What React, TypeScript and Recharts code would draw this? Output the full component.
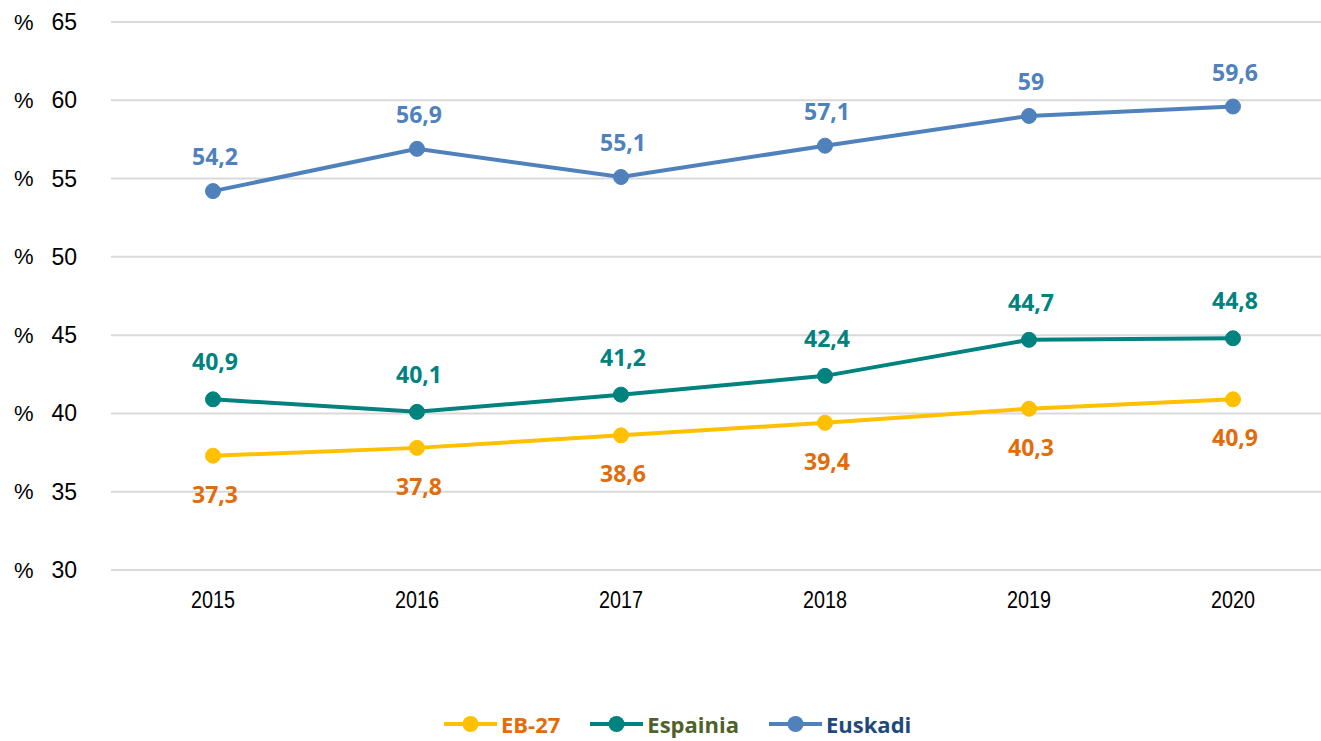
import { LineChart, Line, XAxis, YAxis, CartesianGrid, LabelList } from 'recharts';

const years = ['2015', '2016', '2017', '2018', '2019', '2020'];
const eb27 = [37.3, 37.8, 38.6, 39.4, 40.3, 40.9];
const espainia = [40.9, 40.1, 41.2, 42.4, 44.7, 44.8];
const euskadi = [54.2, 56.9, 55.1, 57.1, 59, 59.6];
const yTicks = [30, 35, 40, 45, 50, 55, 60, 65];

const SERIES = [
  { key: 'eb27', name: 'EB-27', color: '#FFC000', labelColor: '#E36C0A', legendColor: '#E36C0A', dy: 38 },
  { key: 'espainia', name: 'Espainia', color: '#00827F', labelColor: '#00827F', legendColor: '#4F6228', dy: -38 },
  { key: 'euskadi', name: 'Euskadi', color: '#4F81BD', labelColor: '#4F81BD', legendColor: '#1F497D', dy: -35 },
];

const data = years.map((year, i) => ({
  year,
  eb27: eb27[i],
  espainia: espainia[i],
  euskadi: euskadi[i],
}));

const LABEL_FONT = '"Open Sans", "Noto Sans", sans-serif';
const AXIS_FONT = "'Liberation Sans', Arial, sans-serif";
const fmt = (v: number) => String(v).replace('.', ',');

function YTick({ y, payload }: any) {
  return (
    <g>
      <text x={14} y={y} dominantBaseline="central" fontSize={22} fontFamily={AXIS_FONT} fill="#000">%</text>
      <text x={77} y={y} textAnchor="end" dominantBaseline="central" fontSize={23} fontFamily={AXIS_FONT} fill="#000">{payload.value}</text>
    </g>
  );
}

function XTick({ x, y, payload }: any) {
  return (
    <text x={x} y={y + 22} textAnchor="middle" dominantBaseline="central" fontSize={23}
      textLength={44} lengthAdjust="spacingAndGlyphs" fontFamily={AXIS_FONT} fill="#000">
      {payload.value}
    </text>
  );
}

function makeLabel(color: string, dy: number) {
  return (props: any) => {
    const { x, y, value } = props;
    return (
      <text x={x + 2} y={y + dy} textAnchor="middle" dominantBaseline="central" fontSize={23} fontWeight={700}
        fontFamily={LABEL_FONT} fill={color}>
        {fmt(value)}
      </text>
    );
  };
}

function ChartLegend() {
  return (
    <div style={{ position: 'absolute', left: 444, top: 711, display: 'flex', alignItems: 'center', gap: 30 }}>
      {SERIES.map((s) => (
        <div key={s.key} style={{ display: 'flex', alignItems: 'center', gap: 4 }}>
          <svg width={53} height={18}>
            <line x1={0} y1={9} x2={53} y2={9} stroke={s.color} strokeWidth={4} strokeLinecap="round" />
            <circle cx={26.5} cy={9} r={8} fill={s.color} />
          </svg>
          <span style={{ color: s.legendColor, fontFamily: LABEL_FONT, fontWeight: 700, fontSize: 22, lineHeight: '26px' }}>
            {s.name}
          </span>
        </div>
      ))}
    </div>
  );
}

export default function App() {
  return (
    <div style={{ position: 'absolute', left: 0, top: 0, width: 1321, height: 741, overflow: 'hidden', background: '#fff' }}>
      <LineChart width={1340} height={741} data={data} margin={{ top: 22, right: 5, left: 0, bottom: 111 }}>
        <CartesianGrid horizontal vertical={false} stroke="#D9D9D9" strokeWidth={2} />
        <XAxis dataKey="year" axisLine={false} tickLine={false} padding={{ left: 102, right: 102 }} tick={<XTick />} height={60} interval={0} />
        <YAxis domain={[30, 65]} ticks={yTicks} axisLine={false} tickLine={false} width={111} tick={<YTick />} interval={0} />
        {SERIES.map((s) => (
          <Line key={s.key} dataKey={s.key} name={s.name} stroke={s.color} strokeWidth={4}
            dot={{ r: 7.5, fill: s.color, stroke: s.color, strokeWidth: 1 }} isAnimationActive={false}>
            <LabelList dataKey={s.key} content={makeLabel(s.labelColor, s.dy)} />
          </Line>
        ))}
      </LineChart>
      <ChartLegend />
    </div>
  );
}
